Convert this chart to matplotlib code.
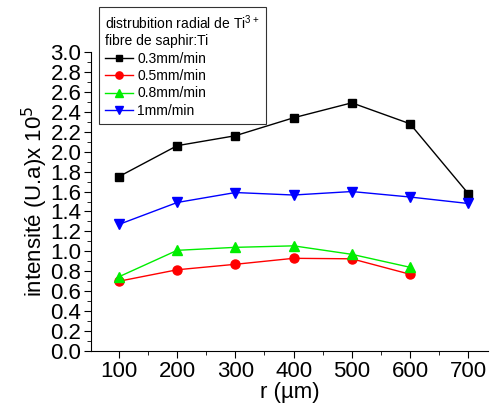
import numpy as np
import matplotlib
matplotlib.use("Agg")
import matplotlib.pyplot as plt
from matplotlib.ticker import MultipleLocator

plt.rcParams['font.family'] = ['Liberation Sans', 'DejaVu Sans']

# données
r = [100, 200, 300, 400, 500, 600, 700]
v03 = [1.75, 2.06, 2.16, 2.34, 2.49, 2.28, 1.58]
v05 = [0.70, 0.815, 0.87, 0.93, 0.925, 0.77]
v08 = [0.745, 1.01, 1.04, 1.055, 0.97, 0.84]
v1 = [1.27, 1.49, 1.59, 1.565, 1.60, 1.545, 1.48]
labels = ["0.3mm/min", "0.5mm/min", "0.8mm/min", "1mm/min"]

fig = plt.figure(figsize=(4.95, 4.16), dpi=100)
ax = fig.add_axes([91/495, 1 - 351/416, (488 - 91)/495, (351 - 52)/416])

ax.plot(r, v03, color="black", lw=1, marker="s", ms=6, label=labels[0])
ax.plot(r[:6], v05, color="red", lw=1, marker="o", ms=6.5, label=labels[1])
ax.plot(r[:6], v08, color="#00ee00", lw=1, marker="^", ms=7, label=labels[2])
ax.plot(r, v1, color="blue", lw=1, marker="v", ms=7, label=labels[3])

ax.set_xlim(52, 734)
ax.set_ylim(0, 3.0)
ax.xaxis.set_major_locator(MultipleLocator(100))
ax.xaxis.set_minor_locator(MultipleLocator(50))
ax.yaxis.set_major_locator(MultipleLocator(0.2))
ax.yaxis.set_minor_locator(MultipleLocator(0.1))
ax.yaxis.set_major_formatter(matplotlib.ticker.FormatStrFormatter("%.1f"))
ax.tick_params(which="both", direction="out", labelsize=16)
ax.tick_params(which="major", length=5, pad=2)
ax.tick_params(which="minor", length=3)
ax.spines["top"].set_visible(False)
ax.spines["right"].set_visible(False)

ax.set_xlabel("r (µm)", fontsize=16, labelpad=0)
ax.set_ylabel("intensité (U.a)x 10$^5$", fontsize=16, labelpad=0)

leg = ax.legend(loc="upper left", bbox_to_anchor=(8/397, 1 + 45/299),
                title="distrubition radial de Ti$^{\\mathregular{3+}}$\nfibre de saphir:Ti",
                fontsize=10, title_fontsize=10, frameon=True, fancybox=False,
                edgecolor="black", handlelength=2.0, handletextpad=0.3,
                borderpad=0.45, labelspacing=0.25, borderaxespad=0,
                markerscale=0.8)
leg._legend_box.align = "left"
leg.get_frame().set_linewidth(0.8)

fig.savefig("out.png", dpi=100)
